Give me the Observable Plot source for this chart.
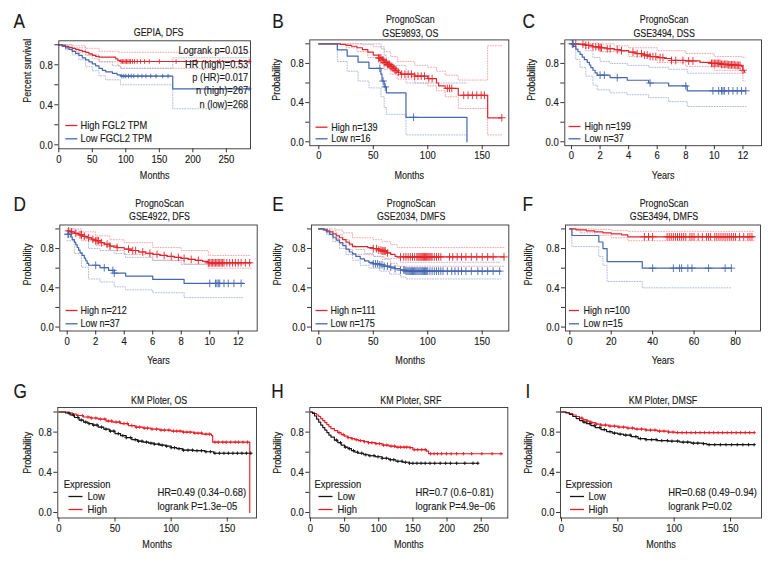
<!DOCTYPE html>
<html><head><meta charset="utf-8">
<script src="https://cdn.jsdelivr.net/npm/d3@7"></script>
<script src="https://cdn.jsdelivr.net/npm/@observablehq/plot@0.6"></script>
<style>
body{margin:0;background:#fff;}
#fig{position:relative;width:780px;height:564px;overflow:hidden;background:#fff;}
#fig svg{position:absolute;overflow:visible;}
</style></head><body><div id="fig"></div>
<script>
// ---------- DATA ----------
const yTicks = [0, 0.2, 0.4, 0.6, 0.8, 1.0];
const yTickLabels = ["0.0", "", "0.4", "", "0.8", ""];

// A  GEPIA, DFS (months)
const aXTicks = [0, 50, 100, 150, 200, 250];
const aHigh = [[0,1],[5,0.995],[10,0.985],[15,0.975],[20,0.965],[25,0.955],[30,0.945],[35,0.935],[40,0.925],[45,0.91],[50,0.895],[55,0.885],[60,0.877],[85,0.86],[88,0.845],[92,0.833],[285,0.833]];
const aLow = [[0,1],[5,0.985],[10,0.97],[15,0.955],[20,0.935],[25,0.915],[30,0.895],[35,0.87],[40,0.85],[45,0.83],[50,0.81],[55,0.79],[60,0.765],[65,0.745],[70,0.73],[80,0.715],[87,0.70],[92,0.687],[170,0.56],[285,0.56]];
const aHighCens = [93,95,97,99,101,103,105,107,110,113,117,122,128,135,150,175,205,240,270,284];
const aLowCens = [94,97,100,104,108,112,118,124,130,137,145,155,163,284];
const aHighUp = [[0,1],[20,0.99],[40,0.965],[60,0.935],[90,0.925],[285,0.925]];
const aHighLo = [[0,1],[10,0.97],[20,0.94],[30,0.92],[40,0.895],[50,0.86],[60,0.83],[88,0.79],[92,0.765],[285,0.765]];
const aLowUp = [[0,1],[20,0.97],[40,0.9],[60,0.83],[80,0.79],[92,0.765],[170,0.87],[285,0.87]];
const aLowLo = [[0,1],[10,0.95],[20,0.9],[30,0.85],[40,0.78],[50,0.74],[60,0.69],[70,0.65],[92,0.6],[170,0.36],[285,0.36]];
const aStats = ["Logrank p=0.015", "HR (high)=0.53", "p (HR)=0.017", "n (high)=267", "n (low)=268"];
const aLegend = ["High FGL2 TPM", "Low FGCL2 TPM"];

// B  GSE9893, OS (months)
const bXTicks = [0, 50, 100, 150];
const bHigh = [[0,1],[20,0.993],[25,0.985],[30,0.975],[35,0.96],[40,0.94],[45,0.915],[50,0.885],[55,0.855],[58,0.835],[60,0.81],[63,0.79],[66,0.77],[68,0.75],[70,0.73],[72,0.71],[75,0.69],[88,0.67],[100,0.645],[108,0.60],[110,0.57],[116,0.545],[128,0.475],[155,0.245],[168,0.245]];
const bLow = [[0,1],[17,0.9375],[26,0.875],[36,0.8125],[46,0.75],[57,0.69],[58,0.62],[60,0.56],[62,0.5],[80,0.25],[136,0]];
const bHighCens = [55,56,57,58,59,60,61,62,63,64,65,66,67,68,69,70,71,73,76,79,82,85,88,91,94,97,101,104,118,120,122,133,137,141,145,149,152,168];
const bLowCens = [56,59,61,87];
const bHighUp = [[0,1],[40,0.99],[50,0.97],[60,0.92],[66,0.87],[72,0.82],[88,0.78],[100,0.76],[108,0.72],[116,0.68],[128,0.63],[155,0.98],[168,0.98]];
const bHighLo = [[0,1],[25,0.96],[35,0.92],[45,0.86],[55,0.8],[60,0.74],[66,0.69],[72,0.64],[88,0.6],[100,0.57],[108,0.52],[116,0.46],[128,0.34],[155,0.07],[168,0.07]];
const bLowUp = [[0,1],[46,1],[57,0.95],[60,0.88],[62,0.78],[80,0.6],[136,0.6]];
const bLowLo = [[0,1],[17,0.82],[26,0.72],[36,0.62],[46,0.55],[57,0.46],[60,0.35],[62,0.28],[80,0.07],[136,0.07]];
const bLegend = ["High n=139", "Low n=16"];

// C  GSE3494, DSS (years)
const cXTicks = [0, 2, 4, 6, 8, 10, 12];
const cHigh = [[0,1],[0.5,0.995],[1,0.985],[1.5,0.97],[2,0.96],[2.5,0.95],[3,0.94],[3.5,0.93],[4,0.915],[4.5,0.9],[5,0.885],[5.5,0.87],[6,0.86],[6.5,0.85],[7,0.83],[8,0.825],[9,0.81],[9.8,0.8],[10.5,0.79],[11,0.785],[11.5,0.78],[11.9,0.77],[12,0.73],[12.1,0.71],[12.15,0.71]];
const cLow = [[0,1],[0.15,0.973],[0.3,0.946],[0.45,0.919],[0.6,0.892],[0.75,0.865],[0.9,0.838],[1.1,0.811],[1.25,0.784],[1.35,0.757],[1.5,0.73],[1.65,0.703],[1.8,0.68],[2.7,0.655],[3.9,0.628],[5.4,0.6],[6.8,0.57],[8.1,0.52],[12.2,0.52]];
const cHighCens = [0.1,0.3,0.8,1.0,1.2,1.5,1.7,1.9,2.0,2.1,2.5,2.7,3.2,3.5,4.3,4.6,4.9,5.1,5.3,5.5,5.7,5.9,6.2,6.4,7.0,7.3,7.8,8.2,8.5,9.8,9.9,10.0,10.1,10.2,10.3,10.4,10.5,10.6,10.7,10.8,10.9,11.0,11.1,11.2,11.3,11.4,11.5,11.6,11.7,11.8,12.0];
const cLowCens = [0.05,0.1,2.0,2.3,3.2,5.5,8.0,9.9,10.3,10.5,10.6,10.7,11.0,11.3,11.6,11.9,12.2];
const cHighUp = [[0,1],[2,1],[3,0.98],[4,0.96],[6,0.93],[8,0.9],[10,0.87],[12,0.86],[12.15,0.86]];
const cHighLo = [[0,1],[1,0.96],[2,0.92],[4,0.87],[6,0.81],[8,0.77],[10,0.73],[11.9,0.71],[12,0.62],[12.15,0.62]];
const cLowUp = [[0,1],[0.5,1],[1,0.93],[1.5,0.86],[2,0.82],[2.7,0.8],[3.9,0.78],[5.4,0.76],[6.8,0.74],[8.1,0.7],[12.2,0.7]];
const cLowLo = [[0,1],[0.3,0.84],[0.6,0.76],[1,0.67],[1.5,0.58],[1.8,0.53],[2.7,0.5],[3.9,0.48],[5.4,0.45],[6.8,0.41],[8.1,0.36],[12.2,0.36]];
const cLegend = ["High n=199", "Low n=37"];

// D  GSE4922, DFS (years)
const dXTicks = [0, 2, 4, 6, 8, 10, 12];
const dHigh = [[0,0.98],[0.2,0.97],[0.5,0.955],[0.8,0.94],[1.1,0.925],[1.4,0.91],[1.7,0.895],[2.0,0.88],[2.3,0.86],[2.6,0.845],[3.0,0.825],[3.5,0.81],[4.0,0.795],[4.5,0.78],[5.0,0.765],[5.5,0.752],[6.0,0.74],[6.5,0.73],[7.0,0.72],[7.5,0.71],[8.0,0.7],[8.5,0.69],[9.0,0.68],[9.5,0.67],[9.9,0.655],[12.9,0.655]];
const dLow = [[0,0.946],[0.25,0.919],[0.35,0.892],[0.5,0.865],[0.6,0.838],[0.7,0.811],[0.8,0.784],[0.9,0.757],[1.05,0.73],[1.2,0.703],[1.3,0.676],[1.4,0.649],[1.5,0.63],[2.3,0.605],[2.9,0.578],[3.3,0.55],[4.1,0.52],[6.0,0.485],[8.2,0.445],[12.4,0.445]];
const dHighCens = [0.1,0.3,0.6,0.9,1.0,1.2,1.5,1.8,2.0,2.1,2.2,2.4,2.8,3.0,3.5,4.3,4.6,4.8,5.3,5.8,6.3,6.8,7.3,7.8,8.2,8.7,9.2,9.9,10.0,10.1,10.2,10.3,10.4,10.5,10.6,10.7,10.8,10.9,11.0,11.2,11.4,11.6,11.8,12.0,12.2,12.5,12.8];
const dLowCens = [0.05,0.1,2.0,2.6,3.2,3.3,10.0,10.4,10.5,10.6,10.7,11.0,11.3,11.7,12.2];
const dHighUp = [[0,1],[1,0.97],[2,0.93],[3,0.89],[4,0.86],[6,0.81],[8,0.78],[9.9,0.73],[12.9,0.73]];
const dHighLo = [[0,0.96],[1,0.88],[2,0.83],[3,0.78],[4,0.74],[6,0.68],[8,0.64],[9.9,0.6],[12.9,0.6]];
const dLowUp = [[0,1],[0.5,0.98],[1,0.9],[1.5,0.8],[2.3,0.78],[3.3,0.75],[4.1,0.71],[6,0.68],[8.2,0.64],[12.4,0.64]];
const dLowLo = [[0,0.88],[0.5,0.75],[1,0.61],[1.5,0.49],[2.3,0.46],[3.3,0.41],[4.1,0.38],[6,0.35],[8.2,0.3],[12.4,0.3]];
const dLegend = ["High n=212", "Low n=37"];

// E  GSE2034, DMFS (months)
const eXTicks = [0, 50, 100, 150];
const eHigh = [[0,1],[5,0.99],[8,0.98],[10,0.97],[13,0.95],[16,0.93],[19,0.91],[22,0.89],[25,0.865],[28,0.845],[31,0.82],[45,0.81],[50,0.8],[55,0.785],[58,0.775],[62,0.755],[66,0.74],[70,0.72],[72,0.715],[170,0.715]];
const eLow = [[0,1],[4,0.99],[7,0.97],[10,0.945],[13,0.915],[16,0.885],[19,0.86],[22,0.83],[25,0.795],[28,0.765],[31,0.745],[34,0.72],[38,0.695],[42,0.675],[46,0.66],[50,0.645],[56,0.635],[60,0.62],[65,0.61],[70,0.595],[75,0.58],[80,0.57],[167,0.57]];
const eHighCens = [50,53,55,57,58,59,60,61,63,75,78,80,82,84,86,88,90,91,92,93,94,95,96,97,98,99,100,101,102,103,104,106,108,110,112,120,123,127,131,135,140,145,150,155,160,170];
const eLowCens = [50,52,54,56,58,60,63,66,70,75,78,79,80,81,82,83,84,85,86,87,88,89,90,91,92,93,94,95,96,97,98,99,100,102,104,106,108,110,112,114,118,122,125,128,131,135,140,146,150,155,160,166];
const eHighUp = [[0,1],[10,1],[16,0.99],[22,0.96],[31,0.91],[50,0.89],[58,0.87],[66,0.84],[72,0.81],[170,0.81]];
const eHighLo = [[0,1],[8,0.95],[13,0.9],[19,0.85],[25,0.79],[31,0.74],[50,0.72],[58,0.69],[66,0.65],[72,0.62],[170,0.62]];
const eLowUp = [[0,1],[10,0.98],[16,0.94],[22,0.89],[28,0.83],[34,0.79],[42,0.75],[50,0.72],[60,0.7],[75,0.66],[167,0.66]];
const eLowLo = [[0,1],[7,0.94],[13,0.87],[19,0.8],[25,0.74],[31,0.68],[38,0.63],[46,0.6],[56,0.57],[65,0.54],[75,0.51],[80,0.49],[167,0.49]];
const eLegend = ["High n=111", "Low n=175"];

// F  GSE3494, DMFS
const fXTicks = [0, 20, 40, 60, 80];
const fHigh = [[0,1],[3,0.99],[8,0.98],[12,0.97],[16,0.96],[20,0.95],[25,0.94],[28,0.92],[89,0.92]];
const fLow = [[0,1],[1,0.933],[14,0.867],[16,0.8],[18,0.667],[35,0.6],[78,0.6]];
const fHighCens = [36,38,40,47,48,49,50,51,52,53,54,55,56,58,59,60,62,64,66,67,68,70,71,72,73,74,75,76,77,78,79,80,82,84,86,87,88];
const fLowCens = [40,50,53,54,57,59,67,75,78];
const fHighUp = [[0,1],[12,0.995],[20,0.985],[28,0.975],[89,0.975]];
const fHighLo = [[0,1],[5,0.96],[12,0.935],[20,0.91],[28,0.88],[89,0.88]];
const fLowLo = [[0,1],[1,0.82],[14,0.72],[16,0.63],[18,0.465],[35,0.4],[78,0.4]];
const fLegend = ["High n=100", "Low n=15"];

// G  KM Ploter, OS (months)
const gXTicks = [0, 50, 100, 150];
const gHigh = [[0,1],[8,0.99],[12,0.98],[16,0.965],[22,0.95],[28,0.94],[35,0.93],[42,0.91],[48,0.9],[55,0.885],[62,0.865],[68,0.85],[75,0.84],[82,0.83],[90,0.82],[100,0.81],[110,0.8],[120,0.79],[128,0.78],[136,0.765],[137,0.7],[170,0]];
const gLow = [[0,1],[6,0.99],[10,0.97],[14,0.945],[18,0.92],[22,0.9],[26,0.885],[30,0.87],[35,0.85],[40,0.83],[45,0.81],[50,0.785],[55,0.765],[60,0.745],[65,0.725],[70,0.71],[75,0.7],[80,0.69],[85,0.68],[90,0.67],[95,0.66],[100,0.645],[105,0.635],[110,0.62],[120,0.615],[130,0.605],[138,0.59],[171,0.59]];
const gHighCens = [12,17,21,26,29,33,37,41,44,47,51,54,58,61,65,69,72,76,79,83,87,91,94,98,102,105,108,111,114,117,121,124,127,131,134,139,142,146,149,153,157,160,164,168];
const gLowCens = [9,13,17,20,24,27,31,34,38,42,46,49,53,57,60,64,68,71,74,78,82,85,89,92,96,100,103,107,111,115,119,123,127,131,135,139,143,147,151,155,159,163,167,171];
const gStats = ["HR=0.49 (0.34\u22120.68)", "logrank P=1.3e\u221205"];

// H  KM Ploter, SRF
const hXTicks = [0, 50, 100, 150, 200, 250];
const hHigh = [[0,1],[3,0.995],[6,0.985],[9,0.97],[12,0.955],[15,0.935],[18,0.915],[21,0.895],[24,0.875],[27,0.855],[30,0.835],[35,0.815],[40,0.795],[45,0.775],[50,0.76],[55,0.745],[60,0.735],[65,0.725],[70,0.715],[78,0.705],[85,0.695],[95,0.685],[105,0.67],[115,0.66],[125,0.65],[145,0.645],[150,0.625],[170,0.61],[173,0.585],[281,0.585]];
const hLow = [[0,1],[3,0.985],[6,0.96],[9,0.93],[12,0.9],[15,0.87],[18,0.845],[21,0.82],[24,0.795],[27,0.77],[30,0.75],[35,0.72],[40,0.695],[45,0.67],[50,0.65],[55,0.635],[60,0.615],[65,0.6],[70,0.59],[78,0.575],[85,0.565],[95,0.555],[105,0.54],[115,0.525],[125,0.51],[135,0.5],[145,0.49],[246,0.49]];
const hHighCens = [42,48,55,61,67,73,79,85,90,96,101,107,112,118,123,128,132,137,141,146,152,157,163,168,176,181,186,192,199,206,214,224,236,251,266,279];
const hLowCens = [38,44,51,57,63,69,75,81,87,93,99,105,111,117,122,128,134,139,145,150,156,162,168,175,182,190,198,205,214,226,238,245];
const hStats = ["HR=0.7 (0.6\u22120.81)", "logrank P=4.9e\u221206"];

// I  KM Ploter, DMSF
const iXTicks = [0, 50, 100, 150];
const iHigh = [[0,1],[4,0.995],[7,0.985],[10,0.97],[13,0.955],[16,0.94],[19,0.925],[22,0.91],[26,0.895],[30,0.88],[35,0.87],[42,0.86],[50,0.85],[58,0.84],[65,0.83],[75,0.82],[85,0.81],[95,0.8],[101,0.795],[171,0.795]];
const iLow = [[0,1],[4,0.99],[7,0.975],[10,0.955],[13,0.935],[16,0.915],[19,0.9],[22,0.885],[26,0.865],[30,0.845],[35,0.825],[40,0.805],[45,0.79],[50,0.78],[55,0.77],[62,0.755],[68,0.735],[75,0.725],[85,0.715],[95,0.71],[105,0.7],[115,0.69],[125,0.685],[129,0.675],[171,0.675]];
const iHighCens = [18,23,27,31,35,39,43,47,51,55,59,63,67,71,75,79,83,87,91,95,99,103,107,111,115,119,123,127,131,135,139,143,147,151,155,159,163,167,171];
const iLowCens = [20,25,29,34,38,43,47,52,57,61,66,70,75,80,84,89,94,98,103,108,112,117,121,126,131,136,141,146,151,156,161,166,171];
const iStats = ["HR=0.68 (0.49\u22120.94)", "logrank P=0.02"];

const kmLegend = ["Low", "High"];

// ---------- STYLE / LAYOUT ----------
const FONT = '"Liberation Sans Narrow","Liberation Sans",Arial,sans-serif';
const NARROW = 0.82; // horizontal condensing of glyphs (narrow face look)
const RED = "#e3262b", BLUE = "#4467b0", PINK = "#f3a2a5", LBLUE = "#a9b6d6", KRED = "#ec1c24", KBLK = "#151515";
const yLabelMap = new Map(yTicks.map((t, i) => [t, yTickLabels[i]]));

function stepAt(curve, t) { let v = curve[0][1]; for (const [x, y] of curve) { if (x <= t) v = y; else break; } return v; }
// legend key symbol: short horizontal stroke of half-width h
function keySymbol(h) { return {draw(ctx) { ctx.moveTo(-h, 0); ctx.lineTo(h, 0); }}; }

const panels = [
  {letter:"A", cell:[0,0,262,182], frame:[58.3,40.3,250,148.3], xd:[0,286], yd:[-0.04,1.04], xt:aXTicks,
   title:["GEPIA, DFS"], titleDy:-8.6, titleDx:4, xlab:"Months", xlabDy:26.7, ylab:"Percent survival", ylabDx:-31.6, ylabDy:8,
   letterD:[-45.3,-19.5], censR:1.6, keyH:6,
   series:[{d:aHigh,c:RED,cens:aHighCens},{d:aLow,c:BLUE,cens:aLowCens}],
   cis:[{d:aHighUp,c:PINK},{d:aHighLo,c:PINK},{d:aLowUp,c:LBLUE},{d:aLowLo,c:LBLUE}],
   legend:{labels:aLegend, colors:[RED,BLUE], dash:12.5, text:21.7, rows:[-23.3,-10], fs:11.3},
   stats:{lines:aStats, anchor:"top-right", dx:-2.3, dy:9.7, step:13.4, fs:11.3}},
  {letter:"B", cell:[262,0,256,182], frame:[309.3,39.4,508.3,145.2], xd:[-8.3,174.4], yd:[-0.04,1.04], xt:bXTicks,
   title:["PrognoScan","GSE9893, OS"], titleDy:-13.4, titleDx:1, xlab:"Months", xlabDy:30, ylab:"Probability", ylabDx:-33.5, ylabDy:8,
   letterD:[-37.6,-18.6], censR:2.6, keyH:6,
   series:[{d:bHigh,c:RED,cens:bHighCens},{d:bLow,c:BLUE,cens:bLowCens}],
   cis:[{d:bHighUp,c:PINK},{d:bHighLo,c:PINK},{d:bLowUp,c:LBLUE},{d:bLowLo,c:LBLUE}],
   legend:{labels:bLegend, colors:[RED,BLUE], dash:11.7, text:21.4, rows:[-18.5,-6.9], fs:11}},
  {letter:"C", cell:[518,0,262,182], frame:[564.3,39.4,761,145.2], xd:[-0.47,13.3], yd:[-0.04,1.04], xt:cXTicks,
   title:["PrognoScan","GSE3494, DSS"], titleDy:-13.4, titleDx:1, xlab:"Years", xlabDy:30, ylab:"Probability", ylabDx:-33.5, ylabDy:8,
   letterD:[-42.3,-18.6], censR:2.6, keyH:6,
   series:[{d:cHigh,c:RED,cens:cHighCens},{d:cLow,c:BLUE,cens:cLowCens}],
   cis:[{d:cHighUp,c:PINK},{d:cHighLo,c:PINK},{d:cLowUp,c:LBLUE},{d:cLowLo,c:LBLUE}],
   legend:{labels:cLegend, colors:[RED,BLUE], dash:9.7, text:19.7, rows:[-19.2,-6.9], fs:11}},
  {letter:"D", cell:[0,182,262,180], frame:[59.3,224.5,256.7,330.5], xd:[-0.52,13.33], yd:[-0.04,1.04], xt:dXTicks,
   title:["PrognoScan","GSE4922, DFS"], titleDy:-14.8, titleDx:1, xlab:"Years", xlabDy:29.5, ylab:"Probability", ylabDx:-32.6, ylabDy:7.5,
   letterD:[-46.3,-20.3], censR:2.6, keyH:6,
   series:[{d:dHigh,c:RED,cens:dHighCens},{d:dLow,c:BLUE,cens:dLowCens}],
   cis:[{d:dHighUp,c:PINK},{d:dHighLo,c:PINK},{d:dLowUp,c:LBLUE},{d:dLowLo,c:LBLUE}],
   legend:{labels:dLegend, colors:[RED,BLUE], dash:11.7, text:20.7, rows:[-20.5,-7.2], fs:11}},
  {letter:"E", cell:[262,182,256,180], frame:[311,224.5,508.3,330.5], xd:[-6.7,174.4], yd:[-0.04,1.04], xt:eXTicks,
   title:["PrognoScan","GSE2034, DMFS"], titleDy:-14.8, titleDx:1, xlab:"Months", xlabDy:29.5, ylab:"Probability", ylabDx:-34.3, ylabDy:7.5,
   letterD:[-39.3,-20.3], censR:2.6, keyH:6,
   series:[{d:eHigh,c:RED,cens:eHighCens},{d:eLow,c:BLUE,cens:eLowCens}],
   cis:[{d:eHighUp,c:PINK},{d:eHighLo,c:PINK},{d:eLowUp,c:LBLUE},{d:eLowLo,c:LBLUE}],
   legend:{labels:eLegend, colors:[RED,BLUE], dash:10, text:19, rows:[-20.5,-7.2], fs:11}},
  {letter:"F", cell:[518,182,262,180], frame:[565,224.5,760,330.5], xd:[-2.1,92.1], yd:[-0.04,1.04], xt:fXTicks,
   title:["PrognoScan","GSE3494, DMFS"], titleDy:-14.8, titleDx:1, xlab:"Years", xlabDy:29.5, ylab:"Probability", ylabDx:-36.7, ylabDy:7.5,
   letterD:[-43,-20.3], censR:2.6, keyH:5,
   series:[{d:fHigh,c:RED,cens:fHighCens},{d:fLow,c:BLUE,cens:fLowCens}],
   cis:[{d:fHighUp,c:PINK},{d:fHighLo,c:PINK},{d:fLowLo,c:LBLUE}],
   legend:{labels:fLegend, colors:[RED,BLUE], dash:8.5, text:18, rows:[-20.5,-7.2], fs:11}},
  {letter:"G", cell:[0,362,262,202], frame:[57.3,407,256,517.5], xd:[-0.9,176], yd:[-0.055,1.045], xt:gXTicks,
   title:["KM Ploter, OS"], titleDy:-7, titleDx:2, xlab:"Months", xlabDy:26.8, ylab:"Probability", ylabDx:-30.6, ylabDy:11,
   letterD:[-44.3,-16.2], censR:1.2, km:true, keyH:7,
   series:[{d:gHigh,c:KRED,cens:gHighCens},{d:gLow,c:KBLK,cens:gLowCens}],
   cis:[],
   kmLegend:{head:6, dash:17.7, text:29.7, colors:[KBLK,KRED]},
   stats:{lines:gStats, anchor:"bottom-left", dx:99.7, dy:-25.2, step:13.4, fs:11.5}},
  {letter:"H", cell:[262,362,256,202], frame:[309.3,407,507.3,517.5], xd:[-1,289], yd:[-0.055,1.045], xt:hXTicks,
   title:["KM Ploter, SRF"], titleDy:-7, titleDx:2, xlab:"Months", xlabDy:26.8, ylab:"Probability", ylabDx:-32.6, ylabDy:11,
   letterD:[-38.6,-16.2], censR:1.2, km:true, keyH:7,
   series:[{d:hHigh,c:KRED,cens:hHighCens},{d:hLow,c:KBLK,cens:hLowCens}],
   cis:[],
   kmLegend:{head:4.7, dash:15.7, text:27.7, colors:[KBLK,KRED]},
   stats:{lines:hStats, anchor:"bottom-left", dx:105.7, dy:-25.2, step:13.4, fs:11.5}},
  {letter:"I", cell:[518,362,262,202], frame:[560,407,761,517.5], xd:[-0.9,177.5], yd:[-0.055,1.045], xt:iXTicks,
   title:["KM Ploter, DMSF"], titleDy:-7, titleDx:2, xlab:"Months", xlabDy:26.8, ylab:"Probability", ylabDx:-31.7, ylabDy:11,
   letterD:[-35,-16.2], censR:1.2, km:true, keyH:7,
   series:[{d:iHigh,c:KRED,cens:iHighCens},{d:iLow,c:KBLK,cens:iLowCens}],
   cis:[],
   kmLegend:{head:5, dash:16.5, text:28, colors:[KBLK,KRED]},
   stats:{lines:iStats, anchor:"bottom-left", dx:107.7, dy:-25.2, step:14, fs:11.5}}
];

function one(s, opts) { return Plot.text([s], {text: d => d, ...opts}); }
function key(color, dx, dy, h) {
  return Plot.dot([0], {frameAnchor: "bottom-left", dx, dy, symbol: keySymbol(h), r: 3, fill: "none", stroke: color, strokeWidth: 1.3});
}

function makePanel(p) {
  const [cx, cy, W, H] = p.cell;
  const [fl, ft, fr, fb] = p.frame;
  const marks = [];
  for (const ci of p.cis) marks.push(Plot.line(ci.d, {x: d => d[0], y: d => d[1], curve: "step-after", stroke: ci.c, strokeWidth: 0.9, strokeDasharray: "1,1.6"}));
  for (const s of p.series) {
    marks.push(Plot.line(s.d, {x: d => d[0], y: d => d[1], curve: "step-after", stroke: s.c, strokeWidth: p.km ? 1.15 : 1.2}));
    marks.push(Plot.dot(s.cens.map(t => [t, stepAt(s.d, t)]), {x: d => d[0], y: d => d[1], symbol: "plus", r: p.censR, stroke: s.c, strokeWidth: 0.9}));
  }
  marks.push(Plot.frame({stroke: "#333", strokeWidth: 0.9}));
  marks.push(Plot.axisX({ticks: p.xt, tickSize: 4, tickPadding: 1.5, tickFormat: d => String(d), label: null, fontSize: 11.6, stroke: "#333"}));
  marks.push(Plot.axisY({ticks: yTicks, tickSize: 4, tickPadding: 2, tickFormat: d => yLabelMap.get(d) ?? "", label: null, fontSize: 11.6, stroke: "#333"}));
  const n = p.title.length;
  p.title.forEach((line, i) => marks.push(one(line, {frameAnchor: "top", dy: p.titleDy + (i - (n - 1) / 2) * 13.4, dx: p.titleDx, lineAnchor: "middle", fontSize: 10.8})));
  marks.push(one(p.xlab, {frameAnchor: "bottom", dy: p.xlabDy, lineAnchor: "middle", fontSize: 11}));
  marks.push(one(p.ylab, {frameAnchor: "left", dx: p.ylabDx, dy: p.ylabDy, rotate: -90, lineAnchor: "middle", fontSize: 11}));
  marks.push(one(p.letter, {frameAnchor: "top-left", dx: p.letterD[0], dy: p.letterD[1], textAnchor: "start", lineAnchor: "middle", fontSize: 21}));
  if (p.legend) {
    const L = p.legend;
    L.labels.forEach((lab, i) => {
      marks.push(key(L.colors[i], L.dash, L.rows[i], p.keyH));
      marks.push(one(lab, {frameAnchor: "bottom-left", dx: L.text, dy: L.rows[i], textAnchor: "start", lineAnchor: "middle", fontSize: L.fs}));
    });
  }
  if (p.kmLegend) {
    const L = p.kmLegend, rows = [-21.5, -8.5];
    marks.push(one("Expression", {frameAnchor: "bottom-left", dx: L.head, dy: -33.2, textAnchor: "start", lineAnchor: "middle", fontSize: 11.5}));
    kmLegend.forEach((lab, i) => {
      marks.push(key(L.colors[i], L.dash, rows[i], p.keyH));
      marks.push(one(lab, {frameAnchor: "bottom-left", dx: L.text, dy: rows[i], textAnchor: "start", lineAnchor: "middle", fontSize: 11.5}));
    });
  }
  if (p.stats) {
    const S = p.stats, right = S.anchor === "top-right";
    S.lines.forEach((line, i) => marks.push(one(line, {frameAnchor: S.anchor, dx: S.dx, dy: S.dy + i * S.step,
      textAnchor: right ? "end" : "start", lineAnchor: "middle", fontSize: S.fs})));
  }
  const svg = Plot.plot({
    width: W, height: H,
    marginLeft: fl - cx, marginTop: ft - cy, marginRight: cx + W - fr, marginBottom: cy + H - fb,
    x: {domain: p.xd}, y: {domain: p.yd},
    style: {background: "none", overflow: "visible", fontFamily: FONT, color: "#1a1a1a"},
    marks
  });
  svg.style.left = cx + "px";
  svg.style.top = cy + "px";
  return svg;
}

// condense glyphs horizontally (keeps real text; emulates the narrow face)
function condense(svg) {
  svg.querySelectorAll("text").forEach(t => {
    const spans = t.querySelectorAll("tspan");
    const targets = spans.length ? Array.from(spans) : [t];
    for (const el of targets) {
      const len = el.getComputedTextLength();
      if (!(len > 0)) continue;
      el.setAttribute("textLength", (len * NARROW).toFixed(2));
      el.setAttribute("lengthAdjust", "spacingAndGlyphs");
      el.style.stroke = "currentColor";
      el.style.strokeWidth = "0.15px";
    }
  });
}

const fig = document.getElementById("fig");
for (const p of panels) {
  const svg = makePanel(p);
  fig.appendChild(svg);
  condense(svg);
}
</script></body></html>
